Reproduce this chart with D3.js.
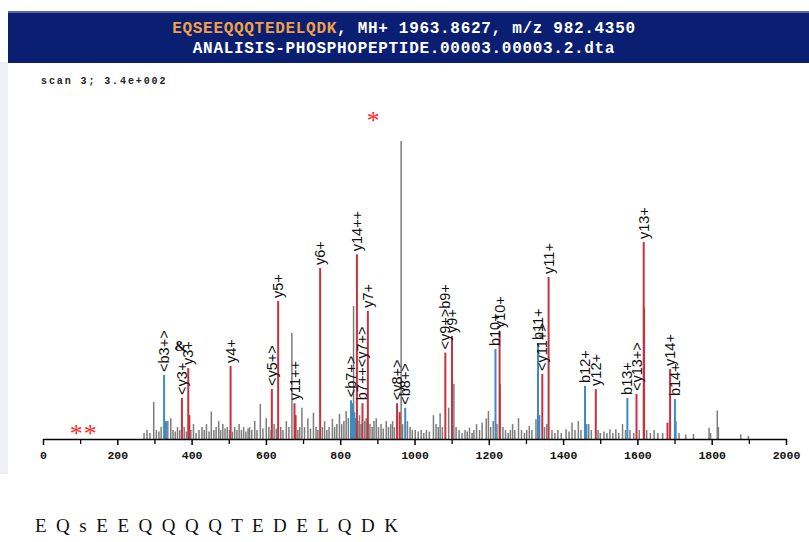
<!DOCTYPE html>
<html><head><meta charset="utf-8">
<script src="https://cdn.jsdelivr.net/npm/d3@7"></script>
<style>body{margin:0;background:#fff}</style>
</head><body>
<svg id="c" width="809" height="542"></svg>
<script>
// ---------- data ----------
const titleSequence = "EQSEEQQQTEDELQDK";
const titleRest = ", MH+ 1963.8627, m/z 982.4350";
const titleFile = "ANALISIS-PHOSPHOPEPTIDE.00003.00003.2.dta";
const scanText = "scan 3; 3.4e+002";
const bottomSequence = "E Q s E E Q Q Q Q T E D E L Q D K";
const xTicks = [0, 200, 400, 600, 800, 1000, 1200, 1400, 1600, 1800, 2000];
const xMinorTicks = [100, 300, 500, 700, 900, 1100, 1300, 1500, 1700, 1900];

// annotated fragment ions (m/z, relative intensity %, ion type, label)
const ionMz   = [326, 374, 391, 505, 616, 633, 677, 746, 845, 829, 860, 874.5, 953, 975, 1083, 1101, 1218, 1229, 1332.5, 1344, 1361, 1459, 1488, 1573, 1597.6, 1617, 1688, 1701];
const ionInt  = [21.5, 13.8, 23.8, 24.5, 16.8, 46.3, 12, 57.4, 62, 13, 12, 43, 12, 10.5, 29, 34.6, 30.2, 36.2, 32.2, 21.8, 54.4, 17.8, 16.8, 13.8, 15.1, 66.1, 23.5, 13.4];
const ionType = ["b","y","y","y","y","y","y","y","y","b","y","y","y","b","y","y","b","y","b","y","y","b","y","b","y","y","y","b"];
const ionLabel = ["<b3+>","<y3+","y3+","y4+","<y5+>","y5+","y11++","y6+","y14++","<b7+>","b7++<y7+>","y7+","<y8+>","<b8+>","<y9+>b9+","y9+","b10+","y10+","b11+","<y11+>","y11+","b12+","y12+","b13+","<y13+>","y13+","y14+","b14+"];

// unlabelled coloured peaks
const colMz   = [331, 394, 680, 832, 838, 842, 960, 1336, 1463, 1618, 1681, 1703];
const colInt  = [6, 8, 8, 12, 9, 7, 9, 8, 5, 44, 5.5, 6];
const colType = ["b","y","y","b","b","b","y","b","b","y","y","b"];

// unassigned (grey) peaks
const noiseMz  = [272,280,288,298,305,312,318,336,344,350,356,362,368,380,386,398,405,412,420,428,434,440,447,453,460,466,473,478,484,490,496,502,510,516,522,528,
  534,540,546,552,556,562,570,576,585,592,601,608,614,622,628,640,646,655,662,670,686,691,697,704,
  713,720,728,735,740,752,758,764,770,779,785,791,798,804,810,816,822,836,848,852,856,866,870,880,886,891,897,903,910,916,924,930,936,941,946,964,968,981,988,994,
  1002,1010,1018,1025,1032,1040,1051,1058,1064,1069,1075,1092,1106,1112,1120,1128,1136,1142,1148,1155,1160,1167,1175,1182,1193,1199,1205,1212,
  1222,1231,1238,1245,1252,1258,1264,1270,1280,1288,1296,1302,1309,1316,1327,1350,1356,1370,1378,1386,1395,1408,1416,1424,1432,1441,1448,
  1469,1476,1494,1500,1510,1518,1526,1534,1542,1550,1560,1568,1580,1590,1605,1625,1635,1645,1655,1668,
  1712,1730,1751,1793,1797,1815,1818,1878,1899];
const noiseInt = [2,3,2,12.4,3,2.5,4,6,7,3,2.5,4,3,4,2.5,3,5,2,3,4,3,5,2.5,9.2,3,4,6,3,5,3.5,4,3,2.5,4,3,5,
  3,4,2.5,3.5,4,3,6,3,11.8,3.5,7,4,3,5,3.5,4,3,6,4,35.6,3,4,10.5,4,
  7,3.5,8.8,4,3,4,6,3,4,6.7,4,5,8.4,5,6,9.4,7,44.6,6,8,5,6,7,5,4,6,7,4,5,3.5,6,4,5,6,4,100,5,6,4,3,
  3,2.5,3,2,3,2.5,8,5,4,8.6,4,10.5,18.5,4,3,2,3,2.5,3.8,2,3,5,3,5.5,7,9.4,4,6,
  5,18.4,4,3,2,3,5,3,7,3,2,3,4.4,3,6.6,4,5,3,2,3,2,3.3,2.5,5.5,3,6,3,
  5,3,3,2,2.5,2,3.3,2,3.3,2,5,3,3,2,3,3,2,3,2,2,
  2,1.5,1.7,3.8,2,9.6,4,1.6,1];

// free annotations (m/z, intensity position, text)
const starMarks = [{mz: 890, int: 108, text: "*"}, {mz: 110, int: 3, text: "**"}];
const ampMark = {mz: 370, int: 29.5, text: "&"};

// ---------- drawing ----------
const svg = d3.select("#c");
const x = d3.scaleLinear().domain([0, 2000]).range([43, 786]);
const y = d3.scaleLinear().domain([0, 100]).range([439, 141]);
const colour = {b: "#3a8cc4", y: "#c8323e", n: "#7c7c7c"};

// page frame
svg.append("rect").attr("x", 0).attr("y", 0).attr("width", 809).attr("height", 542).attr("fill", "#fff");
svg.append("rect").attr("x", 0).attr("y", 62).attr("width", 8).attr("height", 412).attr("fill", "#eef0f5");

// header band
svg.append("rect").attr("x", 8).attr("y", 11).attr("width", 801).attr("height", 52).attr("fill", "#0b1f72");
svg.append("rect").attr("x", 8).attr("y", 11).attr("width", 801).attr("height", 2).attr("fill", "#5868a8");
const h1 = svg.append("text").attr("x", 404).attr("y", 33).attr("text-anchor", "middle")
  .attr("font-family", "Liberation Mono, monospace").attr("font-weight", "bold")
  .attr("font-size", 16).attr("letter-spacing", 0.7);
h1.append("tspan").attr("fill", "#f0a048").text(titleSequence);
h1.append("tspan").attr("fill", "#ffffff").text(titleRest);
svg.append("text").attr("x", 404).attr("y", 53).attr("text-anchor", "middle")
  .attr("font-family", "Liberation Mono, monospace").attr("font-weight", "bold")
  .attr("font-size", 16).attr("letter-spacing", 0.7).attr("fill", "#ffffff").text(titleFile);

svg.append("text").attr("x", 41).attr("y", 84)
  .attr("font-family", "Liberation Mono, monospace").attr("font-weight", "bold")
  .attr("font-size", 10).attr("letter-spacing", 1.9).attr("fill", "#222").text(scanText);

// peaks
const g = svg.append("g");
g.selectAll("line.noise").data(noiseMz.map((m, i) => ({m, v: noiseInt[i]}))).join("line")
  .attr("x1", d => x(d.m)).attr("x2", d => x(d.m)).attr("y1", y(0)).attr("y2", d => y(d.v))
  .attr("stroke", colour.n).attr("stroke-width", 1.5);
g.selectAll("line.col").data(colMz.map((m, i) => ({m, v: colInt[i], t: colType[i]}))).join("line")
  .attr("x1", d => x(d.m)).attr("x2", d => x(d.m)).attr("y1", y(0)).attr("y2", d => y(d.v))
  .attr("stroke", d => colour[d.t]).attr("stroke-width", 2);
const ions = ionMz.map((m, i) => ({m, v: ionInt[i], t: ionType[i], l: ionLabel[i]}));
g.selectAll("line.ion").data(ions).join("line")
  .attr("x1", d => x(d.m)).attr("x2", d => x(d.m)).attr("y1", y(0)).attr("y2", d => y(d.v))
  .attr("stroke", d => colour[d.t]).attr("stroke-width", 2);
g.selectAll("text.ion").data(ions).join("text")
  .attr("transform", d => `translate(${x(d.m)},${y(d.v) - 3}) rotate(-90)`)
  .attr("dominant-baseline", "central")
  .attr("font-family", "Liberation Sans, Arial, sans-serif").attr("font-size", 14.5)
  .attr("fill", "#111").text(d => d.l);

svg.append("text").attr("x", x(ampMark.mz)).attr("y", y(ampMark.int)).attr("text-anchor", "middle")
  .attr("font-family", "Liberation Serif, serif").attr("font-weight", "bold").attr("font-size", 15)
  .attr("fill", "#111").text(ampMark.text);

svg.selectAll("text.star").data(starMarks).join("text")
  .attr("x", d => x(d.mz)).attr("y", d => y(d.int) + 12).attr("text-anchor", "middle")
  .attr("font-family", "Liberation Serif, serif").attr("font-size", 26).attr("fill", "#ff2a2a")
  .attr("letter-spacing", 1).text(d => d.text);

// axis
const axis = svg.append("g").attr("transform", `translate(0,${y(0)})`)
  .call(d3.axisBottom(x).tickValues(xTicks).tickSize(6).tickSizeOuter(0).tickPadding(6).tickFormat(d3.format("d")));
axis.select(".domain").attr("stroke", "#000").attr("stroke-width", 1.6);
axis.selectAll(".tick line").attr("stroke", "#000").attr("stroke-width", 1.5);
axis.selectAll(".tick text").attr("font-family", "Liberation Mono, monospace").attr("font-weight", "bold")
  .attr("font-size", 11.5).attr("fill", "#111");
const minor = svg.append("g").attr("transform", `translate(0,${y(0)})`)
  .call(d3.axisBottom(x).tickValues(xMinorTicks).tickSize(5).tickFormat(""));
minor.select(".domain").remove();
minor.selectAll(".tick line").attr("stroke", "#000").attr("stroke-width", 1.3);

// bottom sequence
svg.append("text").attr("x", 35).attr("y", 532)
  .attr("font-family", "Liberation Serif, Times New Roman, serif").attr("font-size", 19)
  .attr("textLength", 363).attr("lengthAdjust", "spacing").attr("fill", "#111").text(bottomSequence);
</script>
</body></html>
